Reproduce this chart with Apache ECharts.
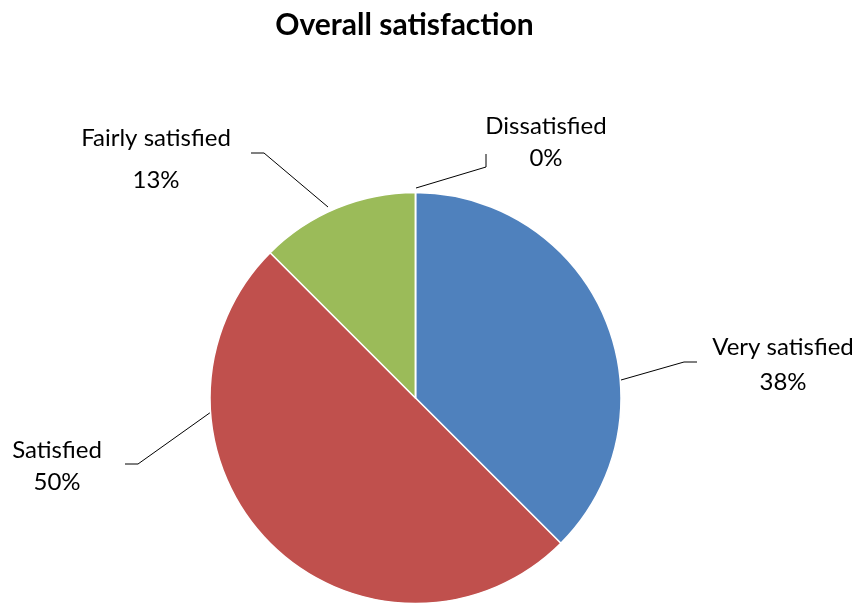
<!DOCTYPE html>
<html>
<head>
<meta charset="utf-8">
<title>Overall satisfaction</title>
<script src="https://cdn.jsdelivr.net/npm/echarts@6/dist/echarts.min.js"></script>
<style>
  html, body { margin: 0; padding: 0; background: #ffffff; }
  #chart { width: 859px; height: 603px; }
</style>
</head>
<body>
<div id="chart"></div>
<script>
// Survey answers and their shares (%)
const categories = ['Very satisfied', 'Satisfied', 'Fairly satisfied', 'Dissatisfied'];
const shares = [37.5, 50, 12.5, 0];
const sliceColors = ['#4F81BD', '#C0504D', '#9BBB59', '#8064A2'];

// Label placement: text centre, line spacing and leader line bend points
const labelSpots = [
  { x: 783, y: 365, lh: 35, line: [[621, 380], [684, 362], [697, 362]] },
  { x: 57,  y: 466, lh: 32, line: [[211, 412], [138, 464], [125, 464]] },
  { x: 156, y: 159, lh: 42, line: [[328, 207], [264, 153], [251, 153]] },
  { x: 546, y: 142, lh: 32, line: [[416, 188], [486, 167], [486, 154]] }
];

const chart = echarts.init(document.getElementById('chart'), null, { renderer: 'canvas' });

const pieData = categories.map((name, i) => ({
  name: name,
  value: shares[i],
  itemStyle: { color: sliceColors[i] },
  label: { lineHeight: labelSpots[i].lh }
}));

chart.setOption({
  animation: false,
  title: {
    text: 'Overall satisfaction',
    left: 399.5,
    top: 5,
    textAlign: 'center',
    textStyle: { fontFamily: 'Lato', fontWeight: 'bold', fontSize: 30, color: '#000' }
  },
  series: [{
    type: 'pie',
    center: [415.5, 398],
    radius: 205.5,
    startAngle: 90,
    clockwise: true,
    avoidLabelOverlap: false,
    stillShowZeroSum: true,
    itemStyle: { borderColor: '#ffffff', borderWidth: 1.5 },
    label: {
      show: true,
      position: 'outside',
      fontFamily: 'Lato',
      fontSize: 24,
      color: '#000',
      align: 'center',
      formatter: p => p.name + '\n' + Math.round(p.value) + '%'
    },
    labelLine: {
      show: true,
      lineStyle: { color: '#000', width: 1 }
    },
    labelLayout: function (params) {
      const spot = labelSpots[params.dataIndex];
      return {
        x: spot.x,
        y: spot.y,
        align: 'center',
        verticalAlign: 'middle',
        labelLinePoints: spot.line
      };
    },
    emphasis: { disabled: true },
    data: pieData
  }]
});
</script>
</body>
</html>
